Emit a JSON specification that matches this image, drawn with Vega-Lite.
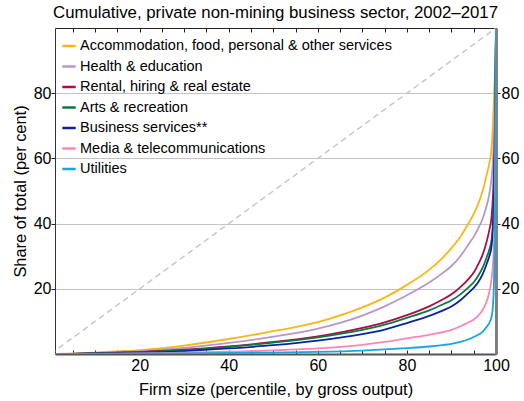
{
  "$schema": "https://vega.github.io/schema/vega-lite/v6.json",
  "width": 441,
  "height": 326,
  "autosize": {"type": "none"},
  "padding": {"left": 55, "top": 28, "right": 28, "bottom": 47},
  "background": "white",
  "config": {
    "font": "Liberation Sans",
    "view": {"stroke": null},
    "axis": {"labelFont": "Liberation Sans", "titleFont": "Liberation Sans", "labelColor": "black", "titleColor": "black", "labelFontSize": 16, "titleFontSize": 16.4, "titleFontWeight": "normal", "tickColor": "#222", "domainColor": "#222"}
  },
  "title": {"text": "Cumulative, private non-mining business sector, 2002–2017", "fontSize": 16.8, "fontWeight": "normal", "font": "Liberation Sans", "anchor": "middle", "frame": "group", "offset": 6, "color": "black"},
  "datasets": {
    "diag": [{"x": 0, "y": 0}, {"x": 100, "y": 100}],
    "curves": [
      {"s":"Accommodation, food, personal & other services","x":1,"y":0},
      {"s":"Accommodation, food, personal & other services","x":5,"y":0.1},
      {"s":"Accommodation, food, personal & other services","x":10,"y":0.4},
      {"s":"Accommodation, food, personal & other services","x":15,"y":0.8},
      {"s":"Accommodation, food, personal & other services","x":20,"y":1.2},
      {"s":"Accommodation, food, personal & other services","x":30,"y":2.6},
      {"s":"Accommodation, food, personal & other services","x":40,"y":4.6},
      {"s":"Accommodation, food, personal & other services","x":50,"y":7.0},
      {"s":"Accommodation, food, personal & other services","x":60,"y":9.8},
      {"s":"Accommodation, food, personal & other services","x":70,"y":14.3},
      {"s":"Accommodation, food, personal & other services","x":75,"y":17.3},
      {"s":"Accommodation, food, personal & other services","x":80,"y":21.2},
      {"s":"Accommodation, food, personal & other services","x":85,"y":25.8},
      {"s":"Accommodation, food, personal & other services","x":88,"y":29.5},
      {"s":"Accommodation, food, personal & other services","x":90,"y":32.5},
      {"s":"Accommodation, food, personal & other services","x":92,"y":36},
      {"s":"Accommodation, food, personal & other services","x":94,"y":40.5},
      {"s":"Accommodation, food, personal & other services","x":95,"y":43},
      {"s":"Accommodation, food, personal & other services","x":96,"y":46},
      {"s":"Accommodation, food, personal & other services","x":97,"y":50},
      {"s":"Accommodation, food, personal & other services","x":98,"y":55.5},
      {"s":"Accommodation, food, personal & other services","x":98.5,"y":58.5},
      {"s":"Accommodation, food, personal & other services","x":99,"y":63},
      {"s":"Accommodation, food, personal & other services","x":99.3,"y":70},
      {"s":"Accommodation, food, personal & other services","x":99.5,"y":77},
      {"s":"Accommodation, food, personal & other services","x":99.7,"y":84},
      {"s":"Accommodation, food, personal & other services","x":99.85,"y":91},
      {"s":"Accommodation, food, personal & other services","x":100,"y":100},
      {"s":"Health & education","x":1,"y":0},
      {"s":"Health & education","x":5,"y":0.08},
      {"s":"Health & education","x":10,"y":0.3},
      {"s":"Health & education","x":15,"y":0.6},
      {"s":"Health & education","x":20,"y":0.9},
      {"s":"Health & education","x":30,"y":1.9},
      {"s":"Health & education","x":40,"y":3.4},
      {"s":"Health & education","x":50,"y":5.3},
      {"s":"Health & education","x":60,"y":7.8},
      {"s":"Health & education","x":70,"y":11.8},
      {"s":"Health & education","x":75,"y":14.6},
      {"s":"Health & education","x":80,"y":18},
      {"s":"Health & education","x":85,"y":21.9},
      {"s":"Health & education","x":88,"y":24.8},
      {"s":"Health & education","x":90,"y":27},
      {"s":"Health & education","x":92,"y":30},
      {"s":"Health & education","x":94,"y":34},
      {"s":"Health & education","x":95,"y":36},
      {"s":"Health & education","x":96,"y":38.5},
      {"s":"Health & education","x":97,"y":41.5},
      {"s":"Health & education","x":98,"y":46},
      {"s":"Health & education","x":98.5,"y":49},
      {"s":"Health & education","x":99,"y":54},
      {"s":"Health & education","x":99.3,"y":59},
      {"s":"Health & education","x":99.5,"y":65},
      {"s":"Health & education","x":99.7,"y":74},
      {"s":"Health & education","x":99.85,"y":85},
      {"s":"Health & education","x":100,"y":100},
      {"s":"Rental, hiring & real estate","x":1,"y":0},
      {"s":"Rental, hiring & real estate","x":5,"y":0.05},
      {"s":"Rental, hiring & real estate","x":10,"y":0.2},
      {"s":"Rental, hiring & real estate","x":15,"y":0.4},
      {"s":"Rental, hiring & real estate","x":20,"y":0.6},
      {"s":"Rental, hiring & real estate","x":30,"y":1.3},
      {"s":"Rental, hiring & real estate","x":40,"y":2.3},
      {"s":"Rental, hiring & real estate","x":50,"y":3.7},
      {"s":"Rental, hiring & real estate","x":60,"y":5.4},
      {"s":"Rental, hiring & real estate","x":70,"y":8.0},
      {"s":"Rental, hiring & real estate","x":75,"y":9.7},
      {"s":"Rental, hiring & real estate","x":80,"y":11.9},
      {"s":"Rental, hiring & real estate","x":85,"y":14.6},
      {"s":"Rental, hiring & real estate","x":88,"y":16.7},
      {"s":"Rental, hiring & real estate","x":90,"y":18.3},
      {"s":"Rental, hiring & real estate","x":92,"y":20.5},
      {"s":"Rental, hiring & real estate","x":94,"y":23.3},
      {"s":"Rental, hiring & real estate","x":95,"y":25},
      {"s":"Rental, hiring & real estate","x":96,"y":27.5},
      {"s":"Rental, hiring & real estate","x":97,"y":30.5},
      {"s":"Rental, hiring & real estate","x":98,"y":35},
      {"s":"Rental, hiring & real estate","x":98.5,"y":38},
      {"s":"Rental, hiring & real estate","x":99,"y":42},
      {"s":"Rental, hiring & real estate","x":99.3,"y":48},
      {"s":"Rental, hiring & real estate","x":99.5,"y":55},
      {"s":"Rental, hiring & real estate","x":99.7,"y":66},
      {"s":"Rental, hiring & real estate","x":99.85,"y":80},
      {"s":"Rental, hiring & real estate","x":100,"y":100},
      {"s":"Arts & recreation","x":1,"y":0},
      {"s":"Arts & recreation","x":5,"y":0.05},
      {"s":"Arts & recreation","x":10,"y":0.2},
      {"s":"Arts & recreation","x":15,"y":0.4},
      {"s":"Arts & recreation","x":20,"y":0.6},
      {"s":"Arts & recreation","x":30,"y":1.2},
      {"s":"Arts & recreation","x":40,"y":2.2},
      {"s":"Arts & recreation","x":50,"y":3.5},
      {"s":"Arts & recreation","x":60,"y":5.1},
      {"s":"Arts & recreation","x":70,"y":7.4},
      {"s":"Arts & recreation","x":75,"y":9.0},
      {"s":"Arts & recreation","x":80,"y":11.1},
      {"s":"Arts & recreation","x":85,"y":13.4},
      {"s":"Arts & recreation","x":88,"y":15.2},
      {"s":"Arts & recreation","x":90,"y":16.5},
      {"s":"Arts & recreation","x":92,"y":18.3},
      {"s":"Arts & recreation","x":94,"y":20.7},
      {"s":"Arts & recreation","x":95,"y":22},
      {"s":"Arts & recreation","x":96,"y":24},
      {"s":"Arts & recreation","x":97,"y":26.5},
      {"s":"Arts & recreation","x":98,"y":30},
      {"s":"Arts & recreation","x":98.5,"y":32},
      {"s":"Arts & recreation","x":99,"y":35},
      {"s":"Arts & recreation","x":99.3,"y":40},
      {"s":"Arts & recreation","x":99.5,"y":47},
      {"s":"Arts & recreation","x":99.7,"y":58},
      {"s":"Arts & recreation","x":99.85,"y":75},
      {"s":"Arts & recreation","x":100,"y":100},
      {"s":"Business services**","x":1,"y":0},
      {"s":"Business services**","x":5,"y":0.03},
      {"s":"Business services**","x":10,"y":0.12},
      {"s":"Business services**","x":15,"y":0.25},
      {"s":"Business services**","x":20,"y":0.4},
      {"s":"Business services**","x":30,"y":0.9},
      {"s":"Business services**","x":40,"y":1.7},
      {"s":"Business services**","x":50,"y":2.7},
      {"s":"Business services**","x":60,"y":4.1},
      {"s":"Business services**","x":70,"y":6.1},
      {"s":"Business services**","x":75,"y":7.5},
      {"s":"Business services**","x":80,"y":9.5},
      {"s":"Business services**","x":85,"y":11.7},
      {"s":"Business services**","x":88,"y":13.3},
      {"s":"Business services**","x":90,"y":14.6},
      {"s":"Business services**","x":92,"y":16.5},
      {"s":"Business services**","x":94,"y":19},
      {"s":"Business services**","x":95,"y":20.3},
      {"s":"Business services**","x":96,"y":22},
      {"s":"Business services**","x":97,"y":24.5},
      {"s":"Business services**","x":98,"y":28},
      {"s":"Business services**","x":98.5,"y":30},
      {"s":"Business services**","x":99,"y":33},
      {"s":"Business services**","x":99.3,"y":38},
      {"s":"Business services**","x":99.5,"y":45},
      {"s":"Business services**","x":99.7,"y":56},
      {"s":"Business services**","x":99.85,"y":73},
      {"s":"Business services**","x":100,"y":100},
      {"s":"Media & telecommunications","x":1,"y":0},
      {"s":"Media & telecommunications","x":5,"y":0.01},
      {"s":"Media & telecommunications","x":10,"y":0.05},
      {"s":"Media & telecommunications","x":15,"y":0.1},
      {"s":"Media & telecommunications","x":20,"y":0.2},
      {"s":"Media & telecommunications","x":30,"y":0.4},
      {"s":"Media & telecommunications","x":40,"y":0.7},
      {"s":"Media & telecommunications","x":50,"y":1.1},
      {"s":"Media & telecommunications","x":60,"y":1.7},
      {"s":"Media & telecommunications","x":70,"y":2.8},
      {"s":"Media & telecommunications","x":75,"y":3.7},
      {"s":"Media & telecommunications","x":80,"y":4.8},
      {"s":"Media & telecommunications","x":85,"y":5.9},
      {"s":"Media & telecommunications","x":88,"y":6.7},
      {"s":"Media & telecommunications","x":90,"y":7.4},
      {"s":"Media & telecommunications","x":92,"y":8.5},
      {"s":"Media & telecommunications","x":94,"y":9.8},
      {"s":"Media & telecommunications","x":95,"y":10.6},
      {"s":"Media & telecommunications","x":96,"y":11.8},
      {"s":"Media & telecommunications","x":97,"y":13.5},
      {"s":"Media & telecommunications","x":98,"y":16.5},
      {"s":"Media & telecommunications","x":98.5,"y":19},
      {"s":"Media & telecommunications","x":99,"y":23},
      {"s":"Media & telecommunications","x":99.3,"y":27},
      {"s":"Media & telecommunications","x":99.5,"y":32},
      {"s":"Media & telecommunications","x":99.7,"y":42},
      {"s":"Media & telecommunications","x":99.85,"y":60},
      {"s":"Media & telecommunications","x":100,"y":100},
      {"s":"Utilities","x":1,"y":0},
      {"s":"Utilities","x":5,"y":0.01},
      {"s":"Utilities","x":10,"y":0.02},
      {"s":"Utilities","x":15,"y":0.05},
      {"s":"Utilities","x":20,"y":0.1},
      {"s":"Utilities","x":30,"y":0.2},
      {"s":"Utilities","x":40,"y":0.3},
      {"s":"Utilities","x":50,"y":0.45},
      {"s":"Utilities","x":60,"y":0.65},
      {"s":"Utilities","x":70,"y":1.05},
      {"s":"Utilities","x":75,"y":1.4},
      {"s":"Utilities","x":80,"y":1.8},
      {"s":"Utilities","x":85,"y":2.3},
      {"s":"Utilities","x":88,"y":2.75},
      {"s":"Utilities","x":90,"y":3.1},
      {"s":"Utilities","x":92,"y":3.7},
      {"s":"Utilities","x":94,"y":4.6},
      {"s":"Utilities","x":95,"y":5.2},
      {"s":"Utilities","x":96,"y":5.9},
      {"s":"Utilities","x":97,"y":6.8},
      {"s":"Utilities","x":98,"y":8.5},
      {"s":"Utilities","x":98.5,"y":9.5},
      {"s":"Utilities","x":99,"y":11.5},
      {"s":"Utilities","x":99.3,"y":14.5},
      {"s":"Utilities","x":99.5,"y":20},
      {"s":"Utilities","x":99.7,"y":33},
      {"s":"Utilities","x":99.85,"y":55},
      {"s":"Utilities","x":100,"y":100}
    ]
  },
  "layer": [
    {
      "data": {"name": "diag"},
      "mark": {"type": "line", "clip": true, "color": "#c8c8c8", "strokeWidth": 1.5, "strokeDash": [6, 4]},
      "encoding": {
        "x": {"field": "x", "type": "quantitative", "scale": {"domain": [1, 100], "nice": false, "zero": false},
          "axis": {"orient": "bottom", "title": "Firm size (percentile, by gross output)", "values": [5,10,15,20,25,30,35,40,45,50,55,60,65,70,75,80,85,90,95,100], "labelExpr": "datum.value % 20 === 0 ? datum.label : ''", "tickSize": -4, "labelPadding": 7, "labelFlush": false, "labelOverlap": false, "domainColor": "#555", "domainWidth": 2, "grid": false, "titlePadding": 8}},
        "y": {"field": "y", "type": "quantitative", "scale": {"domain": [0, 100], "nice": false},
          "axis": {"orient": "left", "title": "Share of total (per cent)", "values": [20, 40, 60, 80], "tickSize": 4, "labelPadding": 0, "grid": true, "gridColor": "#c4c4c4", "gridWidth": 1, "domainColor": "#333", "domainWidth": 1, "titlePadding": 5}},
        "order": {"value": 0}
      }
    },
    {
      "data": {"name": "curves"},
      "mark": {"type": "line", "interpolate": "monotone", "strokeWidth": 1.8, "clip": true},
      "encoding": {
        "x": {"field": "x", "type": "quantitative", "scale": {"domain": [1, 100], "nice": false, "zero": false},
          "axis": {"orient": "top", "title": null, "values": [5,10,15,20,25,30,35,40,45,50,55,60,65,70,75,80,85,90,95,100], "labels": false, "tickSize": -4, "domainColor": "#222", "domainWidth": 1, "grid": false}},
        "y": {"field": "y", "type": "quantitative", "scale": {"domain": [0, 100], "nice": false},
          "axis": {"orient": "right", "title": null, "values": [20, 40, 60, 80], "tickSize": 4, "labelPadding": 1, "grid": false, "domainColor": "#808080", "domainWidth": 3}},
        "color": {"field": "s", "type": "nominal",
          "scale": {"domain": ["Accommodation, food, personal & other services", "Health & education", "Rental, hiring & real estate", "Arts & recreation", "Business services**", "Media & telecommunications", "Utilities"],
                    "range": ["#FDB515", "#B797C8", "#AD0B4C", "#0B7A3E", "#0A24A0", "#FF85B8", "#12A8E3"]},
          "legend": {"title": null, "orient": "none", "legendX": 6, "legendY": 10, "symbolType": "stroke", "symbolSize": 180, "symbolStrokeWidth": 2.5, "labelFontSize": 14.5, "labelFont": "Liberation Sans", "labelColor": "black", "labelOffset": 3, "rowPadding": 5.5, "padding": 0, "labelLimit": 400}},
        "order": {"value": 0}
      }
    }
  ],
  "resolve": {"axis": {"x": "independent", "y": "independent"}}
}
